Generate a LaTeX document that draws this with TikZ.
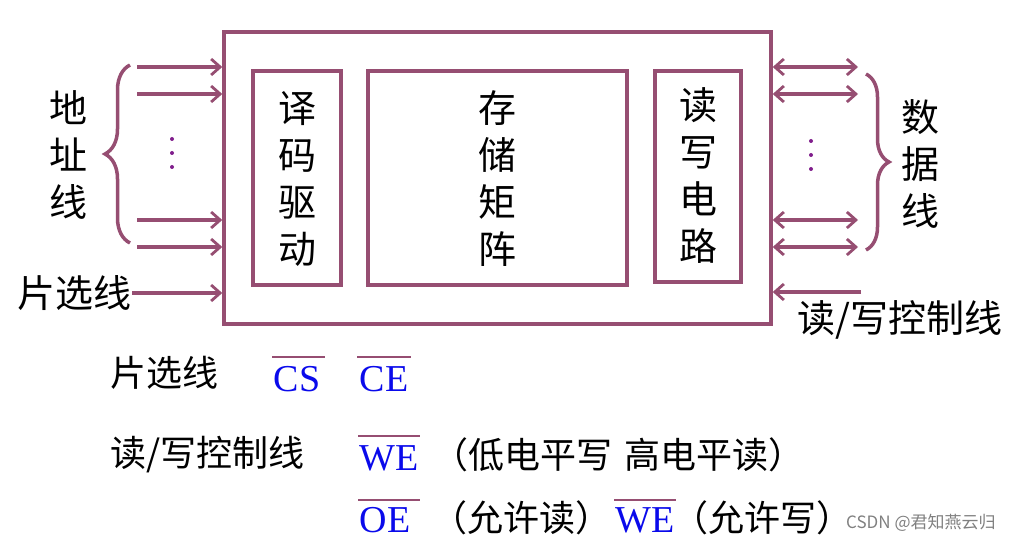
\documentclass[tikz,border=0pt]{standalone}
\usepackage{fontspec}
\setmainfont{Liberation Serif}
\newfontfamily\cjk{Noto Sans CJK SC}
\usetikzlibrary{arrows.meta,decorations.pathreplacing}
\definecolor{plum}{RGB}{150,78,114}
\definecolor{dotc}{RGB}{128,30,140}
\definecolor{latblue}{RGB}{10,10,235}
\begin{document}
\begin{tikzpicture}[x=1pt,y=-1pt,
  frame/.style={draw=plum,line width=3.5pt},
  bus/.style={draw=plum,line width=3.5pt,-{Straight Barb[length=9pt,width=16pt,line width=2.8pt]}},
  dbus/.style={draw=plum,line width=3.5pt,{Straight Barb[length=9pt,width=16pt,line width=2.8pt]}-{Straight Barb[length=9pt,width=16pt,line width=2.8pt]}},
  zh/.style={font=\cjk\fontsize{38}{47}\selectfont,inner sep=0pt,align=center},
  zhs/.style={font=\cjk\fontsize{36}{44}\selectfont,inner sep=0pt},
  lat/.style={font=\fontsize{38}{42}\selectfont,text=latblue,inner sep=0pt},
  ovl/.style={draw=plum,line width=2pt},
  vdot/.style={fill=dotc,circle,inner sep=0pt,minimum size=4pt},
  bracestyle/.style={draw=plum,line width=3.5pt,decorate,decoration={brace,amplitude=#1}}]
\useasboundingbox (0,0) rectangle (1034,545);
% boxes
\node[frame,minimum width=547pt,minimum height=292pt,inner sep=0pt] (chip) at (497.5,178) {};
\node[frame,minimum width=88pt,minimum height=214pt,inner sep=0pt] (dec) at (297,178) {};
\node[frame,minimum width=259pt,minimum height=214pt,inner sep=0pt] (mat) at (497.5,178) {};
\node[frame,minimum width=86pt,minimum height=211pt,inner sep=0pt] (rw) at (698,176.5) {};
\node[zh] (dect) at (297,179) {译\\码\\驱\\动};
\node[zh] (matt) at (497,179) {存\\储\\矩\\阵};
\node[zh] (rwt) at (698,176) {读\\写\\电\\路};
% address lines
\foreach \y/\n in {67/a1,94/a2,220/a3,247/a4}{
  \coordinate (\n) at (137,\y);
  \draw[bus] (\n) -- (\n -| chip.west);
}
\node[vdot] (ld1) at (172,139) {};
\node[vdot] (ld2) at (172,153) {};
\node[vdot] (ld3) at (172,167) {};
\coordinate (lb1) at (130,243);
\coordinate (lb2) at (130,65);
\draw[bracestyle=25pt] (lb1) -- (lb2);
\node[zh] (addr) at (68,155) {地\\址\\线};
% chip select
\node[zh,anchor=east] (cs) at (132,293) {片选线};
\draw[bus] (cs.east) -- (cs.east -| chip.west);
% data lines
\foreach \y/\n in {67/d1,94/d2,220/d3,247/d4}{
  \coordinate (\n) at (858,\y);
  \draw[dbus] (\n -| chip.east) -- (\n);
}
\node[vdot] (rd1) at (811,141) {};
\node[vdot] (rd2) at (811,155) {};
\node[vdot] (rd3) at (811,169) {};
\coordinate (rb1) at (866,74);
\coordinate (rb2) at (866,250);
\draw[bracestyle=23pt] (rb1) -- (rb2);
\node[zh] (data) at (920,164) {数\\据\\线};
% read/write control
\coordinate (rwc) at (861,292);
\draw[bus] (rwc) -- (rwc -| chip.east);
\node[zh] (rwct) at (900,320) {读/写控制线};
% legend
\node[zhs,anchor=west] (l1) at (110,373) {片选线};
\node[lat] (csn) at (297,379) {CS};
\draw[ovl] (272,357) -- (325,357);
\node[lat] (cen) at (384,379) {CE};
\draw[ovl] (357,357) -- (411,357);
\node[zhs,anchor=west] (l2) at (110,455) {读/写控制线};
\node[lat] (we1) at (389,458) {WE};
\draw[ovl] (358,436) -- (420,436);
\node[zhs,anchor=west] (n1) at (432,455) {（低电平写\hspace{12pt}高电平读）};
\node[lat] (oe) at (385,520) {OE};
\draw[ovl] (358,500) -- (420,500);
\node[zhs,anchor=west] (n2) at (431,518) {（允许读）};
\node[lat] (we2) at (645,520) {WE};
\draw[ovl] (614,500) -- (676,500);
\node[zhs,anchor=west] (n3) at (672,518) {（允许写）};
\node[font=\cjk\fontsize{17}{20}\selectfont,text=gray,anchor=west,inner sep=0pt] (wm) at (846,523) {CSDN @君知燕云归};
\end{tikzpicture}
\end{document}
